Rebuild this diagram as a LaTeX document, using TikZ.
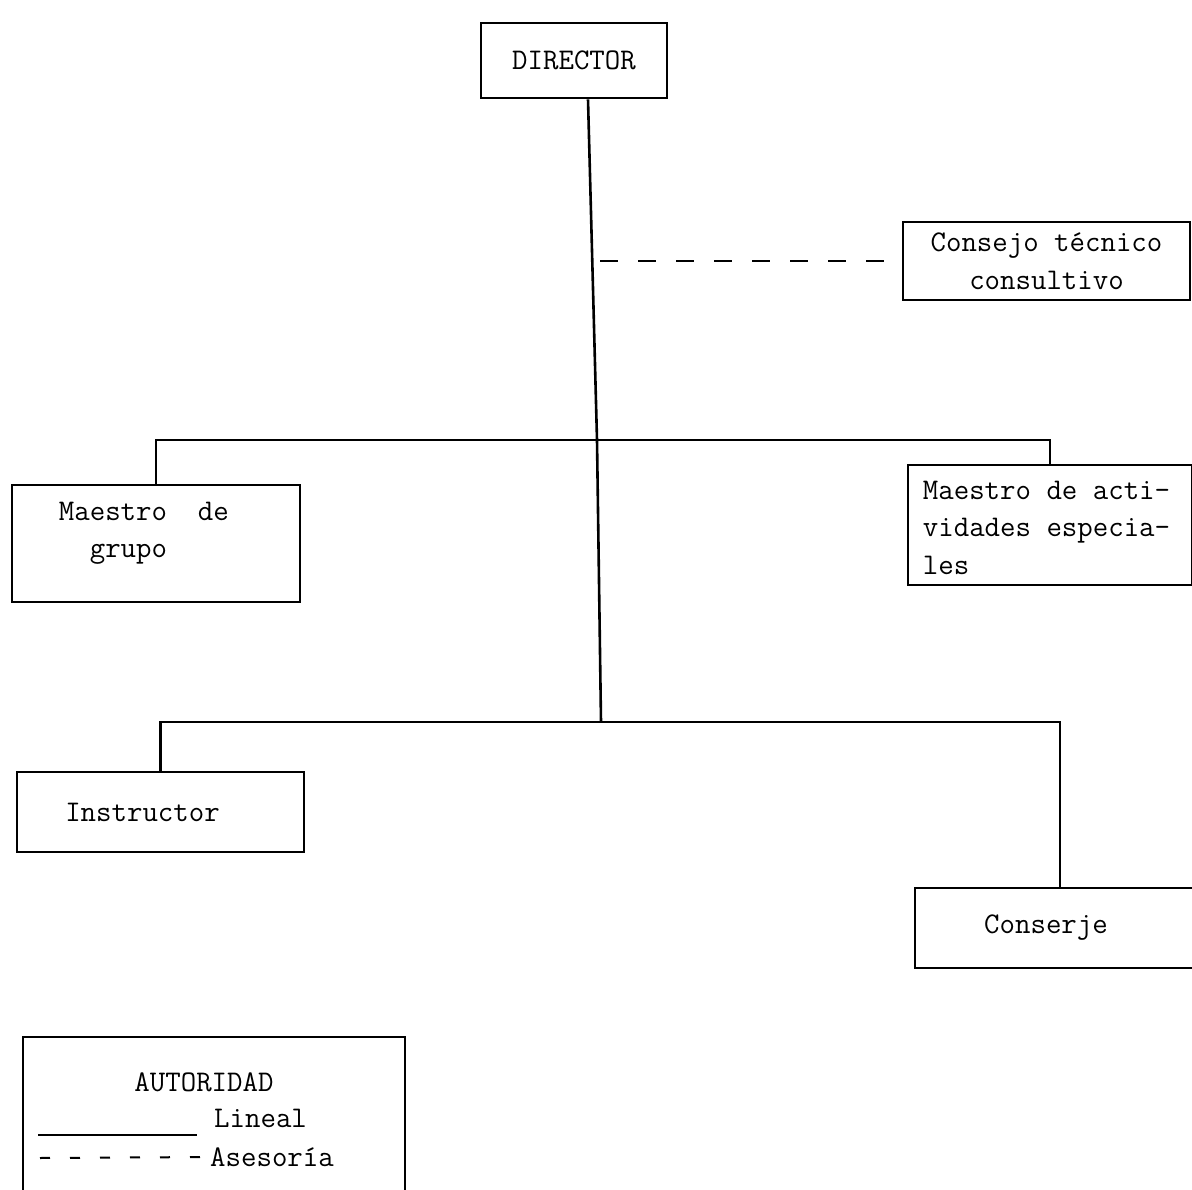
\documentclass[tikz,border=0pt]{standalone}
\usepackage{fontspec}
\usetikzlibrary{positioning,calc}
\newcommand{\tw}{\fontsize{30}{37.5}\selectfont\ttfamily}
\begin{document}
\begin{tikzpicture}[
x=1pt,y=-1pt,
box/.style={
  draw,
  line width=2.6pt,
  inner sep=0pt,
  align=center,
  font=\tw
  },
txt/.style={
  inner sep=0pt,
  align=left,
  font=\tw
  },
lineal/.style={
  line width=2.6pt
  },
asesor/.style={
  line width=2pt,
  dash pattern=on 18pt off 20pt
  }
]

\useasboundingbox[fill=white] (0,0) rectangle (1192,1190);

%The boxes
\node[box,minimum width=186pt,minimum height=75pt] (dir) at (574,60.5)
  {DIRECTOR};
\node[box,minimum width=287pt,minimum height=78pt] (cons) at (1046.5,261)
  {Consejo t\'ecnico\\consultivo};
\node[box,minimum width=288pt,minimum height=117pt] (mgrupo) at (156,543.5)
  {};
\node[txt,anchor=north west] (mgrupotxt) at ($(mgrupo.north west)+(48,18)$)
  {Maestro\ \ de\\\ \ grupo};
\node[box,minimum width=284pt,minimum height=120pt] (mact) at (1050,525)
  {};
\node[txt,anchor=north west] (macttxt) at ($(mact.north west)+(16,17)$)
  {Maestro de acti-\\vidades especia-\\les};
\node[box,minimum width=287pt,minimum height=80pt] (instr) at (160.5,812)
  {\hspace*{-36pt}Instructor};
\node[box,minimum width=290pt,minimum height=80pt] (consj) at (1060,928)
  {\hspace*{-28pt}Conserje};

%Legend
\node[box,minimum width=382pt,minimum height=213pt] (leg) at (214,1143.5)
  {};
\node[txt] (autor) at (204,1082)
  {AUTORIDAD};
\node[txt,anchor=west] (lin) at (214,1118)
  {Lineal};
\node[txt,anchor=west] (ases) at (210,1157)
  {Asesor\'{\i}a};
\coordinate (l1) at (38,1135);
\coordinate (l2) at (197,1135);
\coordinate (d1) at (40,1158);
\draw[lineal] (l1) -- (l2);
\draw[asesor,dash pattern=on 10pt off 20pt] (d1) -- (ases.west);

%Aux
\coordinate (top) at ($(dir.south)+(14,0)$);
\coordinate (j1) at (597,440);
\coordinate (j2) at (601,722);
\coordinate (a1) at (600,261);

\draw[lineal] (top) -- (j1) -- (j2);
\draw[lineal] (mgrupo.north) |- (j1) -| (mact.north);
\draw[lineal] (instr.north) |- (j2) -| (consj.north);
\draw[asesor] (a1) -- (cons.west);

\end{tikzpicture}
\end{document}
